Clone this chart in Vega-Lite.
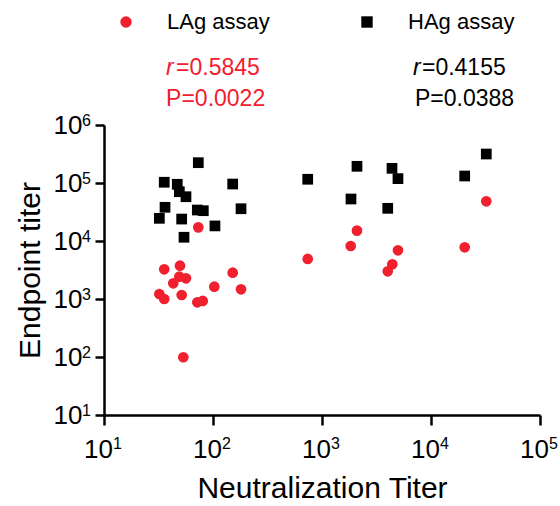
{
  "$schema": "https://vega.github.io/schema/vega-lite/v6.json",
  "width": 436,
  "height": 290,
  "autosize": {"type": "none"},
  "padding": {"left": 104, "top": 125, "right": 20, "bottom": 91},
  "background": "white",
  "config": {
    "view": {"stroke": null},
    "font": "Liberation Sans",
    "axis": {
      "grid": false,
      "labelFlush": false,
      "labelOverlap": false,
      "domainColor": "black",
      "domainWidth": 2.5,
      "tickColor": "black",
      "tickWidth": 2.5,
      "labelColor": "black",
      "labelFont": "Liberation Sans",
      "labelFontSize": 26,
      "titleFont": "Liberation Sans",
      "titleFontSize": 30,
      "titleFontWeight": "normal",
      "titleColor": "black"
    }
  },
  "datasets": {
    "points": [
      {"assay": "HAg assay", "neut": 73.3, "titer": 224000},
      {"assay": "HAg assay", "neut": 35.7, "titer": 103000},
      {"assay": "HAg assay", "neut": 47.0, "titer": 95000},
      {"assay": "HAg assay", "neut": 49.1, "titer": 70800},
      {"assay": "HAg assay", "neut": 56.5, "titer": 58000},
      {"assay": "HAg assay", "neut": 151.6, "titer": 96000},
      {"assay": "HAg assay", "neut": 36.3, "titer": 38100},
      {"assay": "HAg assay", "neut": 32.2, "titer": 24600},
      {"assay": "HAg assay", "neut": 71.8, "titer": 34200},
      {"assay": "HAg assay", "neut": 81.5, "titer": 33300},
      {"assay": "HAg assay", "neut": 180.7, "titer": 36000},
      {"assay": "HAg assay", "neut": 51.6, "titer": 23900},
      {"assay": "HAg assay", "neut": 104.2, "titer": 18200},
      {"assay": "HAg assay", "neut": 54.2, "titer": 11600},
      {"assay": "HAg assay", "neut": 739.6, "titer": 116000},
      {"assay": "HAg assay", "neut": 2094, "titer": 194000},
      {"assay": "HAg assay", "neut": 4387, "titer": 179000},
      {"assay": "HAg assay", "neut": 4977, "titer": 119000},
      {"assay": "HAg assay", "neut": 1845, "titer": 53000},
      {"assay": "HAg assay", "neut": 4009, "titer": 36600},
      {"assay": "HAg assay", "neut": 20380, "titer": 132000},
      {"assay": "HAg assay", "neut": 32160, "titer": 316000},
      {"assay": "LAg assay", "neut": 73.3, "titer": 17200},
      {"assay": "LAg assay", "neut": 35.7, "titer": 3250},
      {"assay": "LAg assay", "neut": 49.8, "titer": 3750},
      {"assay": "LAg assay", "neut": 43.2, "titer": 1866},
      {"assay": "LAg assay", "neut": 49.1, "titer": 2421},
      {"assay": "LAg assay", "neut": 56.5, "titer": 2275},
      {"assay": "LAg assay", "neut": 151.6, "titer": 2838},
      {"assay": "LAg assay", "neut": 102.8, "titer": 1629},
      {"assay": "LAg assay", "neut": 180.7, "titer": 1469},
      {"assay": "LAg assay", "neut": 32.2, "titer": 1219},
      {"assay": "LAg assay", "neut": 35.7, "titer": 1000},
      {"assay": "LAg assay", "neut": 51.6, "titer": 1172},
      {"assay": "LAg assay", "neut": 71.8, "titer": 877},
      {"assay": "LAg assay", "neut": 80.5, "titer": 925},
      {"assay": "LAg assay", "neut": 53.4, "titer": 99},
      {"assay": "LAg assay", "neut": 739.6, "titer": 4898},
      {"assay": "LAg assay", "neut": 2094, "titer": 15100},
      {"assay": "LAg assay", "neut": 1834, "titer": 8200},
      {"assay": "LAg assay", "neut": 4977, "titer": 6920},
      {"assay": "LAg assay", "neut": 4416, "titer": 3963},
      {"assay": "LAg assay", "neut": 4009, "titer": 3006},
      {"assay": "LAg assay", "neut": 32160, "titer": 48300},
      {"assay": "LAg assay", "neut": 20380, "titer": 7785}
    ],
    "stats": [
      {"assay": "LAg assay", "r": "=0.5845", "p": "P=0.0022"},
      {"assay": "HAg assay", "r": "=0.4155", "p": "P=0.0388"}
    ],
    "xexp": [
      {"neut": 10, "e": "1"},
      {"neut": 100, "e": "2"},
      {"neut": 1000, "e": "3"},
      {"neut": 10000, "e": "4"},
      {"neut": 100000, "e": "5"}
    ],
    "yexp": [
      {"titer": 10, "e": "1"},
      {"titer": 100, "e": "2"},
      {"titer": 1000, "e": "3"},
      {"titer": 10000, "e": "4"},
      {"titer": 100000, "e": "5"},
      {"titer": 1000000, "e": "6"}
    ]
  },
  "layer": [
    {
      "data": {"name": "points"},
      "mark": {"type": "point", "filled": true, "opacity": 1, "size": 115, "strokeWidth": 0},
      "encoding": {
        "x": {
          "field": "neut", "type": "quantitative",
          "scale": {"type": "log", "domain": [10, 100000], "nice": false},
          "axis": {
            "values": [10, 100, 1000, 10000, 100000],
            "labelExpr": "'10'",
            "labelOffset": -6,
            "tickSize": 10,
            "labelPadding": 11,
            "title": "Neutralization Titer",
            "titlePadding": 11
          }
        },
        "y": {
          "field": "titer", "type": "quantitative",
          "scale": {"type": "log", "domain": [10, 1000000], "nice": false},
          "axis": {
            "values": [10, 100, 1000, 10000, 100000, 1000000],
            "labelExpr": "'10'",
            "tickSize": 9,
            "labelPadding": 13,
            "title": "Endpoint titer",
            "titlePadding": 8
          }
        },
        "color": {
          "field": "assay", "type": "nominal",
          "scale": {"domain": ["LAg assay", "HAg assay"], "range": ["#f0202f", "#000000"]},
          "legend": {
            "title": null, "orient": "none", "direction": "horizontal",
            "legendX": 11, "legendY": -114, "padding": 0,
            "labelFontSize": 22, "labelFont": "Liberation Sans", "labelColor": "black",
            "labelOffset": 30, "columnPadding": 86, "symbolSize": 130
          }
        },
        "shape": {
          "field": "assay", "type": "nominal",
          "scale": {"domain": ["LAg assay", "HAg assay"], "range": ["circle", "square"]},
          "legend": {
            "title": null, "orient": "none", "direction": "horizontal",
            "legendX": 11, "legendY": -114, "padding": 0,
            "labelFontSize": 22, "labelFont": "Liberation Sans", "labelColor": "black",
            "labelOffset": 30, "columnPadding": 86, "symbolSize": 130
          }
        }
      }
    },
    {
      "data": {"name": "xexp"},
      "mark": {"type": "text", "fontSize": 16, "align": "left", "baseline": "alphabetic", "color": "black", "dx": 9, "dy": 34},
      "encoding": {"x": {"field": "neut", "type": "quantitative"}, "y": {"datum": 10}, "text": {"field": "e"}}
    },
    {
      "data": {"name": "yexp"},
      "mark": {"type": "text", "fontSize": 16, "align": "left", "baseline": "alphabetic", "color": "black", "dx": -22, "dy": 1},
      "encoding": {"y": {"field": "titer", "type": "quantitative"}, "x": {"datum": 10}, "text": {"field": "e"}}
    },
    {
      "data": {"name": "stats"},
      "transform": [{"filter": "datum.assay == 'LAg assay'"}],
      "mark": {"type": "text", "text": "r", "fontStyle": "italic", "fontSize": 23, "align": "left", "baseline": "alphabetic", "color": "#f0202f"},
      "encoding": {"x": {"datum": 37.1}, "y": {"datum": 7280000}}
    },
    {
      "data": {"name": "stats"},
      "transform": [{"filter": "datum.assay == 'LAg assay'"}],
      "mark": {"type": "text", "fontSize": 23, "align": "left", "baseline": "alphabetic", "color": "#f0202f"},
      "encoding": {"x": {"datum": 45.8}, "y": {"datum": 7280000}, "text": {"field": "r"}}
    },
    {
      "data": {"name": "stats"},
      "transform": [{"filter": "datum.assay == 'LAg assay'"}],
      "mark": {"type": "text", "fontSize": 23, "align": "left", "baseline": "alphabetic", "color": "#f0202f"},
      "encoding": {"x": {"datum": 37.1}, "y": {"datum": 2130000}, "text": {"field": "p"}}
    },
    {
      "data": {"name": "stats"},
      "transform": [{"filter": "datum.assay == 'HAg assay'"}],
      "mark": {"type": "text", "text": "r", "fontStyle": "italic", "fontSize": 23, "align": "left", "baseline": "alphabetic", "color": "black"},
      "encoding": {"x": {"datum": 6840}, "y": {"datum": 7280000}}
    },
    {
      "data": {"name": "stats"},
      "transform": [{"filter": "datum.assay == 'HAg assay'"}],
      "mark": {"type": "text", "fontSize": 23, "align": "left", "baseline": "alphabetic", "color": "black"},
      "encoding": {"x": {"datum": 8260}, "y": {"datum": 7280000}, "text": {"field": "r"}}
    },
    {
      "data": {"name": "stats"},
      "transform": [{"filter": "datum.assay == 'HAg assay'"}],
      "mark": {"type": "text", "fontSize": 23, "align": "left", "baseline": "alphabetic", "color": "black"},
      "encoding": {"x": {"datum": 7130}, "y": {"datum": 2130000}, "text": {"field": "p"}}
    }
  ]
}
